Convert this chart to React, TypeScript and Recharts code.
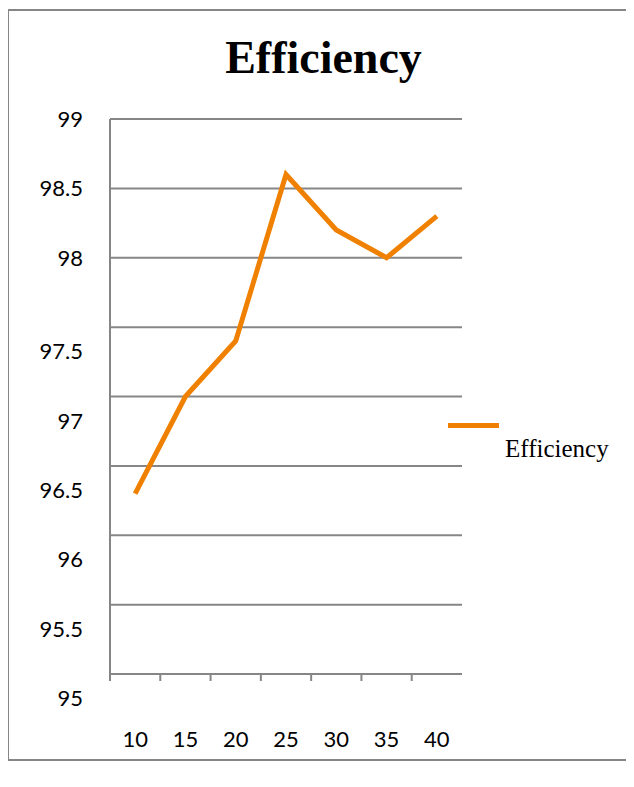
import { LineChart, Line, XAxis, YAxis, CartesianGrid, Legend } from 'recharts';

const categories = ['10', '15', '20', '25', '30', '35', '40'];
const efficiency = [96.3, 97.0, 97.4, 98.6, 98.2, 98.0, 98.3];
const yTicks = [95, 95.5, 96, 96.5, 97, 97.5, 98, 98.5, 99];

const data = categories.map((c, i) => ({ name: c, Efficiency: efficiency[i] }));

const GRAY = '#868686';
const ORANGE = '#F08000';
const TICK_FONT = 'Lato, "Open Sans", sans-serif';

// the lower labels sit a bit below their gridlines in the original
const YTick = (props: any) => {
  const { x, y, payload } = props;
  const shift = payload.value <= 97.5 ? 24 : 0;
  return (
    <text x={x} y={y + shift} dy={8} textAnchor="end" fontFamily={TICK_FONT} fontSize={22} fill="#000">
      {payload.value}
    </text>
  );
};

// tick marks sit on the category boundaries, labels well below the axis
const XTick = (props: any) => {
  const { x, y, payload } = props;
  const half = payload.offset ?? 25;
  return (
    <g>
      <line x1={x - half} x2={x - half} y1={y} y2={y + 7} stroke={GRAY} strokeWidth={2} />
      <text x={x} y={y + 73} textAnchor="middle" fontFamily={TICK_FONT} fontSize={22} fill="#000">
        {payload.value}
      </text>
    </g>
  );
};

const LegendContent = () => (
  <div style={{ position: 'relative', height: 50 }}>
    <div style={{ position: 'absolute', left: 0, top: 0, width: 51, height: 5, background: ORANGE }} />
    <span
      style={{
        position: 'absolute',
        left: 57,
        top: 13.5,
        fontFamily: '"Liberation Serif", serif',
        fontSize: 25,
        lineHeight: 1,
        color: '#000',
        whiteSpace: 'nowrap',
      }}
    >
      Efficiency
    </span>
  </div>
);

const App = () => {
  return (
    <div
      style={{
        position: 'relative',
        marginLeft: -1,
        marginTop: 1,
        width: 625,
        height: 748,
        borderLeft: `2px solid ${GRAY}`,
        borderTop: `2px solid ${GRAY}`,
        borderBottom: `2px solid ${GRAY}`,
        background: '#fff',
      }}
    >
      <div
        style={{
          position: 'absolute',
          left: 0,
          top: 23.5,
          width: 629,
          textAlign: 'center',
          fontFamily: '"Liberation Serif", serif',
          fontWeight: 'bold',
          fontSize: 46,
          lineHeight: 1,
          color: '#000',
        }}
      >
        Efficiency
      </div>
      <div style={{ position: 'absolute', left: 0, top: 0 }}>
        <LineChart width={625} height={748} data={data} margin={{ top: 108, right: 172, bottom: 0, left: 0 }}>
          <CartesianGrid vertical={false} stroke={GRAY} strokeWidth={2} />
          <XAxis
            dataKey="name"
            scale="band"
            height={85}
            axisLine={{ stroke: GRAY, strokeWidth: 2 }}
            tickLine={false}
            tickSize={0}
            tickMargin={0}
            tick={<XTick />}
            interval={0}
          />
          <YAxis
            type="number"
            domain={[95, 99]}
            ticks={yTicks}
            width={101}
            axisLine={{ stroke: GRAY, strokeWidth: 2 }}
            tickLine={false}
            tickSize={0}
            tickMargin={27}
            tick={<YTick />}
            interval={0}
          />
          <Legend
            layout="horizontal"
            verticalAlign="middle"
            align="center"
            content={<LegendContent />}
            wrapperStyle={{ left: 439, top: 411.5, width: 190 }}
          />
          <Line
            type="linear"
            dataKey="Efficiency"
            name="Efficiency"
            stroke={ORANGE}
            strokeWidth={5}
            dot={false}
            isAnimationActive={false}
          />
        </LineChart>
      </div>
    </div>
  );
};

export default App;
